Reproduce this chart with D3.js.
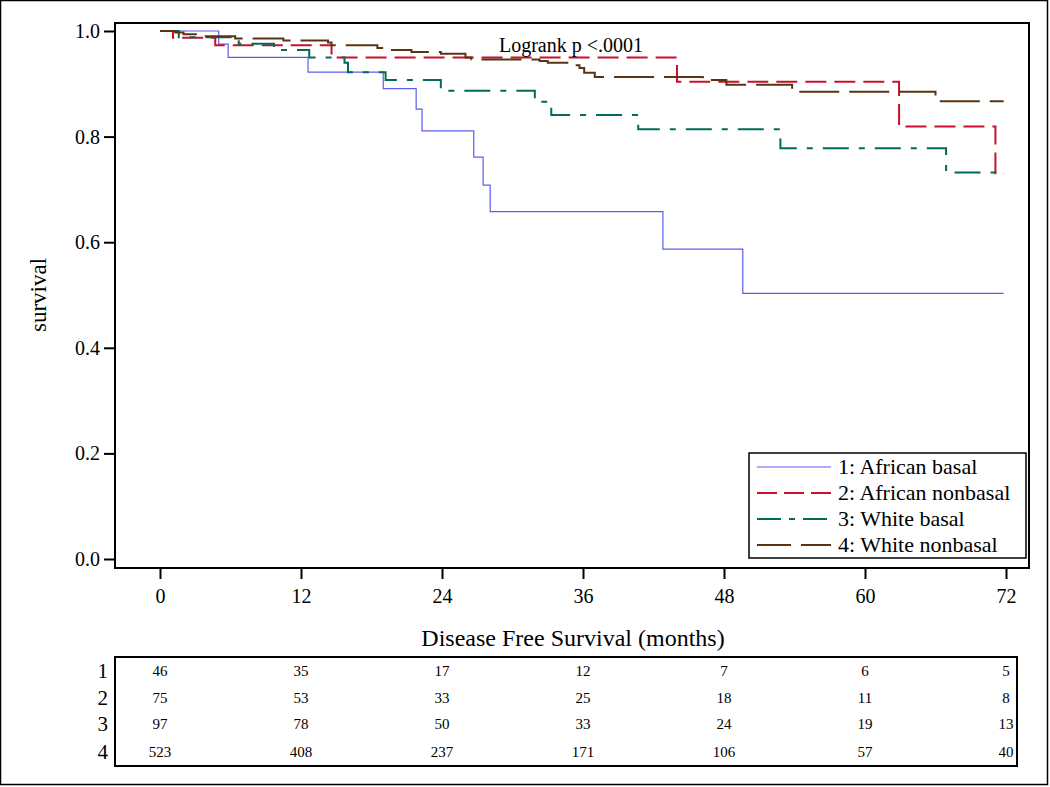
<!DOCTYPE html>
<html>
<head>
<meta charset="utf-8">
<script src="https://cdn.jsdelivr.net/npm/d3@7"></script>
<style>
  body { margin: 0; background: #fff; }
  svg { font-family: "Liberation Serif", "Times New Roman", serif; }
</style>
</head>
<body>
<div id="chart"></div>
<script>
// group names
var groups = ["1: African basal", "2: African nonbasal", "3: White basal", "4: White nonbasal"];

// step curves (months, survival)
var times1 = [0, 5.0, 5.8, 12.6, 19.0, 21.8, 22.3, 26.7, 27.5, 28.1, 42.8, 49.6, 71.8];
var surv1  = [1.0, 0.975, 0.950, 0.922, 0.891, 0.852, 0.811, 0.761, 0.708, 0.658, 0.587, 0.503, 0.503];

var times2 = [0, 1.1, 4.7, 14.6, 44.0, 62.9, 71.1, 71.8];
var surv2  = [1.0, 0.987, 0.973, 0.950, 0.904, 0.819, 0.730, 0.730];

var times3 = [0, 1.6, 6.7, 9.7, 12.7, 15.7, 16.0, 19.2, 23.9, 31.9, 33.3, 40.7, 52.8, 66.9, 71.8];
var surv3  = [1.0, 0.988, 0.976, 0.964, 0.950, 0.940, 0.922, 0.907, 0.887, 0.866, 0.841, 0.814, 0.778, 0.732, 0.732];

var times4 = [0, 1.3, 2.0, 3.2, 6.4, 10.5, 14.3, 14.6, 18.5, 19.2, 21.4, 23.9, 26.0, 26.5, 32.3, 33.0, 34.9, 35.7, 36.1, 37.0, 46.2, 48.2, 53.8, 66.0, 71.8];
var surv4  = [1.0, 0.997, 0.994, 0.990, 0.986, 0.982, 0.978, 0.973, 0.968, 0.964, 0.960, 0.957, 0.950, 0.946, 0.943, 0.940, 0.935, 0.930, 0.921, 0.913, 0.907, 0.898, 0.885, 0.867, 0.867];

// number at risk table
var riskTimes = [0, 12, 24, 36, 48, 60, 72];
var risk1 = [46, 35, 17, 12, 7, 6, 5];
var risk2 = [75, 53, 33, 25, 18, 11, 8];
var risk3 = [97, 78, 50, 33, 24, 19, 13];
var risk4 = [523, 408, 237, 171, 106, 57, 40];

var xTicks = [0, 12, 24, 36, 48, 60, 72];
var yTicks = [0, 0.2, 0.4, 0.6, 0.8, 1.0];

// styles
var colors = ["#5c5cf2", "#c8102e", "#006b5a", "#5a3412"];
var widths = [1.2, 2, 2, 2];
var dashes = [null, "21,8", "26,10,6,10", "40,10"];
var legendDashes = [null, "20,7", "24,8,6,8", "34,10"];

var W = 1050, H = 787;
var frame = {left: 115, top: 23, right: 1029, bottom: 568};

var x = d3.scaleLinear().domain([0, 72]).range([160, 1006]);
var y = d3.scaleLinear().domain([0, 1]).range([559, 31]);

var svg = d3.select("#chart").append("svg")
    .attr("width", W)
    .attr("height", H);

// outer border
svg.append("rect")
    .attr("x", 0.5).attr("y", 0.5)
    .attr("width", W - 3).attr("height", H - 3)
    .attr("fill", "none")
    .attr("stroke", "#000")
    .attr("stroke-width", 1.5);

// plot frame
svg.append("rect")
    .attr("x", frame.left).attr("y", frame.top)
    .attr("width", frame.right - frame.left)
    .attr("height", frame.bottom - frame.top)
    .attr("fill", "none")
    .attr("stroke", "#000")
    .attr("stroke-width", 2);

// y axis
var yAxis = d3.axisLeft(y).tickValues(yTicks).tickFormat(d3.format(".1f")).tickSize(11).tickPadding(4);
var gy = svg.append("g")
    .attr("transform", "translate(" + frame.left + ",0)")
    .call(yAxis);

// x axis
var xAxis = d3.axisBottom(x).tickValues(xTicks).tickSize(11).tickPadding(10);
var gx = svg.append("g")
    .attr("transform", "translate(0," + frame.bottom + ")")
    .call(xAxis);

[gx, gy].forEach(function(g) {
  g.select(".domain").remove();
  g.selectAll(".tick line").attr("stroke", "#000").attr("stroke-width", 2);
  g.selectAll(".tick text")
    .attr("fill", "#000")
    .style("font-family", "Liberation Serif, serif")
    .style("font-size", "20px");
});

// axis labels
svg.append("text")
    .attr("x", 573).attr("y", 646)
    .attr("text-anchor", "middle")
    .style("font-size", "24px")
    .text("Disease Free Survival (months)");

svg.append("text")
    .attr("transform", "translate(46,295) rotate(-90)")
    .attr("text-anchor", "middle")
    .style("font-size", "23px")
    .text("survival");

// curves
var allTimes = [times1, times2, times3, times4];
var allSurv = [surv1, surv2, surv3, surv4];

var valueline = d3.line()
    .x(function(d) { return x(d[0]); })
    .y(function(d) { return y(d[1]); })
    .curve(d3.curveStepAfter);

allTimes.forEach(function(t, i) {
  var pts = t.map(function(v, j) { return [v, allSurv[i][j]]; });
  svg.append("path")
      .datum(pts)
      .attr("d", valueline)
      .attr("fill", "none")
      .attr("stroke", colors[i])
      .attr("stroke-width", widths[i])
      .attr("stroke-dasharray", dashes[i]);
});

// logrank text
svg.append("text")
    .attr("x", 571).attr("y", 52)
    .attr("text-anchor", "middle")
    .style("font-size", "20px")
    .text("Logrank p <.0001");

// legend
var lg = {left: 749, top: 453, right: 1026, bottom: 558};
svg.append("rect")
    .attr("x", lg.left).attr("y", lg.top)
    .attr("width", lg.right - lg.left)
    .attr("height", lg.bottom - lg.top)
    .attr("fill", "#fff")
    .attr("stroke", "#000")
    .attr("stroke-width", 1.5);

groups.forEach(function(name, i) {
  var cy = 467 + i * 26;
  svg.append("line")
      .attr("x1", 757).attr("x2", 831)
      .attr("y1", cy).attr("y2", cy)
      .attr("stroke", colors[i])
      .attr("stroke-width", widths[i])
      .attr("stroke-dasharray", legendDashes[i]);
  svg.append("text")
      .attr("x", 838).attr("y", cy + 7)
      .style("font-size", "22px")
      .text(name);
});

// number at risk table
var tb = {left: 115, top: 657, right: 1017, bottom: 766};
svg.append("rect")
    .attr("x", tb.left).attr("y", tb.top)
    .attr("width", tb.right - tb.left)
    .attr("height", tb.bottom - tb.top)
    .attr("fill", "none")
    .attr("stroke", "#000")
    .attr("stroke-width", 2);

var risks = [risk1, risk2, risk3, risk4];
var rowY = [671, 698, 724, 752];
risks.forEach(function(row, i) {
  svg.append("text")
      .attr("x", 108).attr("y", rowY[i] + 7)
      .attr("text-anchor", "end")
      .style("font-size", "21px")
      .text(i + 1);
  row.forEach(function(v, j) {
    svg.append("text")
        .attr("x", x(riskTimes[j])).attr("y", rowY[i] + 5)
        .attr("text-anchor", "middle")
        .style("font-size", "15px")
        .text(v);
  });
});
</script>
</body>
</html>
